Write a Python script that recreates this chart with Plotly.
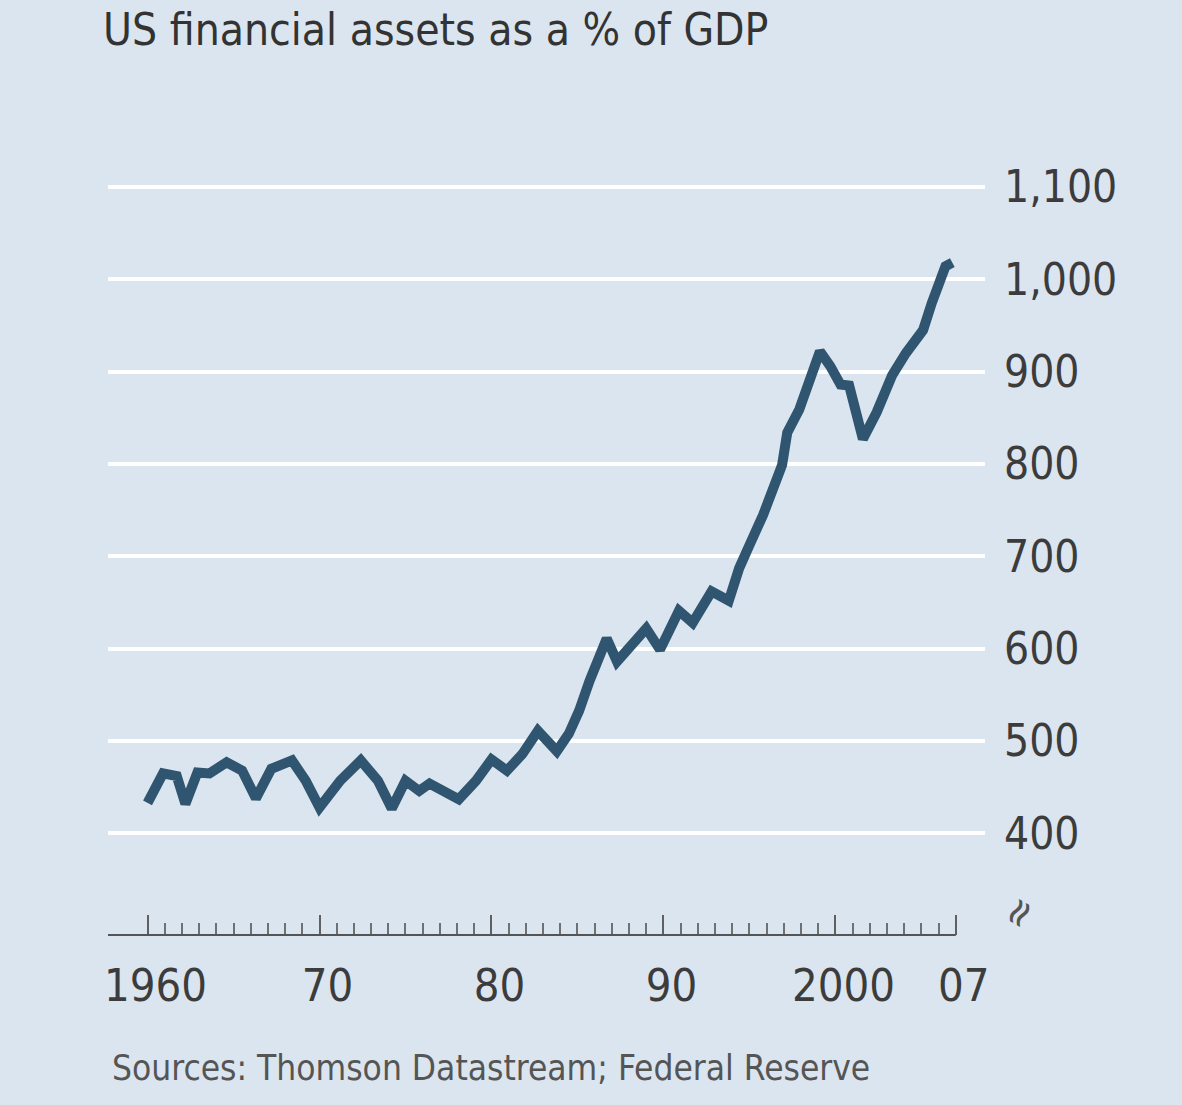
import plotly.graph_objects as go

years = [1960.0, 1960.9, 1961.7, 1962.2, 1962.9, 1963.6, 1964.6, 1965.5, 1966.3,
         1967.2, 1968.4, 1969.2, 1970.0, 1971.2, 1972.4, 1973.4, 1974.2, 1975.0,
         1975.8, 1976.4, 1977.7, 1978.1, 1979.1, 1980.0, 1980.9, 1981.8, 1982.7,
         1983.8, 1984.5, 1985.1, 1985.7, 1986.7, 1987.3, 1988.4, 1989.0, 1989.8,
         1990.9, 1991.7, 1992.8, 1993.8, 1994.4, 1995.0, 1995.8, 1996.9, 1997.2,
         1997.9, 1998.3, 1999.1, 1999.7, 2000.3, 2000.8, 2001.6, 2002.4, 2003.3,
         2004.1, 2005.1, 2005.6, 2006.4, 2006.8]
assets_pct_gdp = [433, 465, 462, 432, 466, 465, 477, 468, 438,
                  470, 479, 457, 428, 457, 479, 457, 427, 457,
                  446, 454, 441, 437, 457, 480, 468, 486, 511,
                  489, 508, 533, 565, 611, 586, 608, 622, 599,
                  641, 628, 662, 652, 687, 712, 745, 799, 834,
                  859, 881, 922, 906, 886, 885, 827, 856, 896,
                  920, 945, 974, 1014, 1018]

x_tick_vals = [1960, 1970, 1980, 1990, 2000, 2007]
x_tick_text = ["1960", "70", "80", "90", "2000", "07"]
y_tick_vals = [400, 500, 600, 700, 800, 900, 1000, 1100]

BG = "#dbe5ef"
LINE = "#2f5570"
INK = "#3a3a3a"
FONT = "Liberation Sans Narrow, DejaVu Sans Condensed, Arial Narrow, sans-serif"

x_range = [1957.7, 2008.7]

fig = go.Figure()
fig.add_trace(go.Scatter(
    x=years, y=assets_pct_gdp, mode="lines",
    line=dict(color=LINE, width=10, shape="linear"),
    hoverinfo="skip", showlegend=False,
))

# horizontal axis rule, ending at the last year shown
fig.add_shape(type="line", xref="x", yref="paper",
              x0=x_range[0], x1=2007, y0=0, y1=0,
              line=dict(color="#555555", width=2))

fig.update_layout(
    width=1182, height=1105,
    margin=dict(l=108, r=197, t=150, b=170),
    paper_bgcolor=BG, plot_bgcolor=BG,
    font=dict(family=FONT, color=INK),
    title=dict(text="US financial assets as a % of GDP",
               x=103 / 1182, xanchor="left", xref="container",
               y=1 - 14 / 1105, yanchor="top", yref="container",
               font=dict(family=FONT, size=44, color="#333333")),
    xaxis=dict(
        range=x_range, showgrid=False, zeroline=False, showline=False,
        tickmode="array", tickvals=x_tick_vals, ticktext=x_tick_text,
        ticks="inside", ticklen=20, tickwidth=2, tickcolor="#606060",
        tickfont=dict(family=FONT, size=45, color="#3c3c3c"),
        ticklabelstandoff=20, ticklabelshift=8,
        minor=dict(tickmode="array", tickvals=list(range(1960, 2008)),
                   ticks="inside", ticklen=12, tickwidth=1.5,
                   tickcolor="#707070", showgrid=False),
    ),
    yaxis=dict(
        range=[290, 1140], side="right", zeroline=False, showline=False,
        tickmode="array", tickvals=y_tick_vals, tickformat=",",
        showgrid=True, gridcolor="#ffffff", gridwidth=4,
        ticks="", ticklabelstandoff=18,
        tickfont=dict(family=FONT, size=44, color="#3c3c3c"),
    ),
    annotations=[
        dict(text="Sources: Thomson Datastream; Federal Reserve",
             xref="paper", yref="paper", x=2 / 877, y=-(1068 - 935) / 785,
             xanchor="left", yanchor="middle", showarrow=False,
             font=dict(family=FONT, size=35, color="#555555")),
        # axis-break mark below the value scale
        dict(text="≈", xref="paper", yref="paper",
             x=(1018 - 108) / 877, y=(935 - 912) / 785,
             xanchor="center", yanchor="middle", showarrow=False,
             textangle=-60, font=dict(family=FONT, size=42, color="#555555")),
    ],
)

fig.write_html("out.html")
